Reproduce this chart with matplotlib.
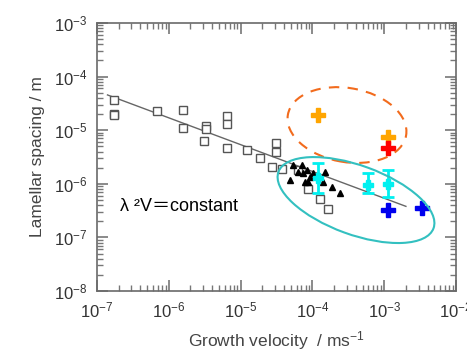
import matplotlib
matplotlib.use('Agg')
import matplotlib.pyplot as plt
from matplotlib.patches import Ellipse
from matplotlib.transforms import Affine2D
import numpy as np

plt.rcParams['font.family'] = ['Liberation Sans', 'DejaVu Sans']
plt.rcParams['mathtext.fontset'] = 'custom'
plt.rcParams['mathtext.rm'] = 'Liberation Sans'
plt.rcParams['mathtext.it'] = 'Liberation Sans:italic'
plt.rcParams['axes.unicode_minus'] = False

# Dados (velocidade em m/s, espacamento em m)
sq_v = [1.74e-7, 1.74e-7, 1.74e-7, 6.9e-7, 1.6e-6, 1.6e-6, 3.1e-6, 3.3e-6, 3.3e-6,
        6.5e-6, 6.5e-6, 6.5e-6, 1.23e-5, 1.86e-5, 2.75e-5, 3.1e-5, 3.1e-5, 3.8e-5,
        6.3e-5, 8.7e-5, 1.26e-4, 1.66e-4]
sq_lam = [3.6e-5, 2.0e-5, 1.9e-5, 2.3e-5, 2.4e-5, 1.1e-5, 6.3e-6, 1.2e-5, 1.07e-5,
          1.8e-5, 1.3e-5, 4.7e-6, 4.3e-6, 3.0e-6, 2.1e-6, 5.8e-6, 4.0e-6, 1.9e-6,
          1.8e-6, 7.9e-7, 5.2e-7, 3.4e-7]

tri_v = [5.4e-5, 7.2e-5, 4.9e-5, 6.3e-5, 7.4e-5, 8.3e-5, 7.9e-5, 8.7e-5, 9.3e-5,
         1.02e-4, 1.51e-4, 1.41e-4, 1.86e-4, 2.4e-4]
tri_lam = [2.2e-6, 2.2e-6, 1.17e-6, 1.66e-6, 1.58e-6, 1.82e-6, 1.07e-6, 1.07e-6,
           1.35e-6, 1.58e-6, 1.66e-6, 1.07e-6, 8.7e-7, 6.8e-7]

cyan_v = [1.2e-4, 5.9e-4, 1.12e-3]
cyan_lam = [1.29e-6, 9.5e-7, 1.0e-6]
cyan_lo = [6.8e-7, 6.8e-7, 5.6e-7]
cyan_hi = [2.45e-6, 1.58e-6, 1.8e-6]

orange_v = [1.2e-4, 1.12e-3]
orange_lam = [1.9e-5, 7.4e-6]
red_v = [1.12e-3]
red_lam = [4.7e-6]
blue_v = [1.12e-3, 3.4e-3]
blue_lam = [3.2e-7, 3.5e-7]

# Reta lambda^2 V = constante
fit_v = [1.4e-7, 2.0e-3]
fit_c = 10 ** -7.77

fig = plt.figure(figsize=(4.67, 3.58), dpi=100)
ax = fig.add_axes([0.2077, 0.187, 0.769, 0.749])
ax.set_xscale('log')
ax.set_yscale('log')
ax.set_xlim(1e-7, 1e-2)
ax.set_ylim(1e-8, 1e-3)

gray = '#555555'
fv = np.array(fit_v)
ax.plot(fv, fit_c * fv ** -0.5, color='#666666', lw=1.0, zorder=2)

ax.plot(sq_v, sq_lam, 's', mfc='white', mec=gray, mew=1.0, ms=5.5, ls='none', zorder=3)
ax.plot(tri_v, tri_lam, '^', color='black', ms=5, ls='none', zorder=4)

cv = np.array(cyan_v)
cl = np.array(cyan_lam)
ax.errorbar(cv, cl, yerr=[cl - np.array(cyan_lo), np.array(cyan_hi) - cl],
            fmt='P', color='#00F0F0', ms=7, elinewidth=2, capsize=4, capthick=2, zorder=5)
ax.plot(orange_v, orange_lam, 'P', color='#FFA500', ms=10, ls='none', zorder=5)
ax.plot(red_v, red_lam, 'P', color='#FF0000', ms=10, ls='none', zorder=5)
ax.plot(blue_v, blue_lam, 'P', color='#0000EE', ms=10, ls='none', zorder=5)

# Elipses (em pixels dentro dos eixos)
W, H = 0.769 * 467, 0.749 * 358
tr = Affine2D().scale(1 / W, 1 / H) + ax.transAxes
ax.add_patch(Ellipse((250, 166), 120, 74, angle=-10, fill=False, ls=(0, (5, 4)),
                     ec='#F26B1D', lw=1.5, transform=tr, zorder=6))
ax.add_patch(Ellipse((259, 91), 165, 69, angle=-20, fill=False,
                     ec='#33C0C0', lw=1.5, transform=tr, zorder=6))

ax.text(2.1e-7, 3.7e-7, 'λ ²V＝constant', fontsize=13, color='black',
        family=['Liberation Sans', 'Noto Sans CJK JP'], ha='left', va='center')

for s in ax.spines.values():
    s.set_color('#6a6a6a')
    s.set_linewidth(1.2)
ax.tick_params(which='both', direction='in', top=True, right=True, colors='#777777',
               labelcolor='#333333', labelsize=12)
ax.tick_params(which='major', length=8, width=1.2, pad=7)
ax.tick_params(which='minor', length=4, width=1.0)

ax.set_xlabel('Growth velocity  / ms$^{-1}$', fontsize=12.5, color='#444444', labelpad=6)
ax.set_ylabel('Lamellar spacing / m', fontsize=12.5, color='#444444', labelpad=6)

fig.savefig('out.png', dpi=100)
